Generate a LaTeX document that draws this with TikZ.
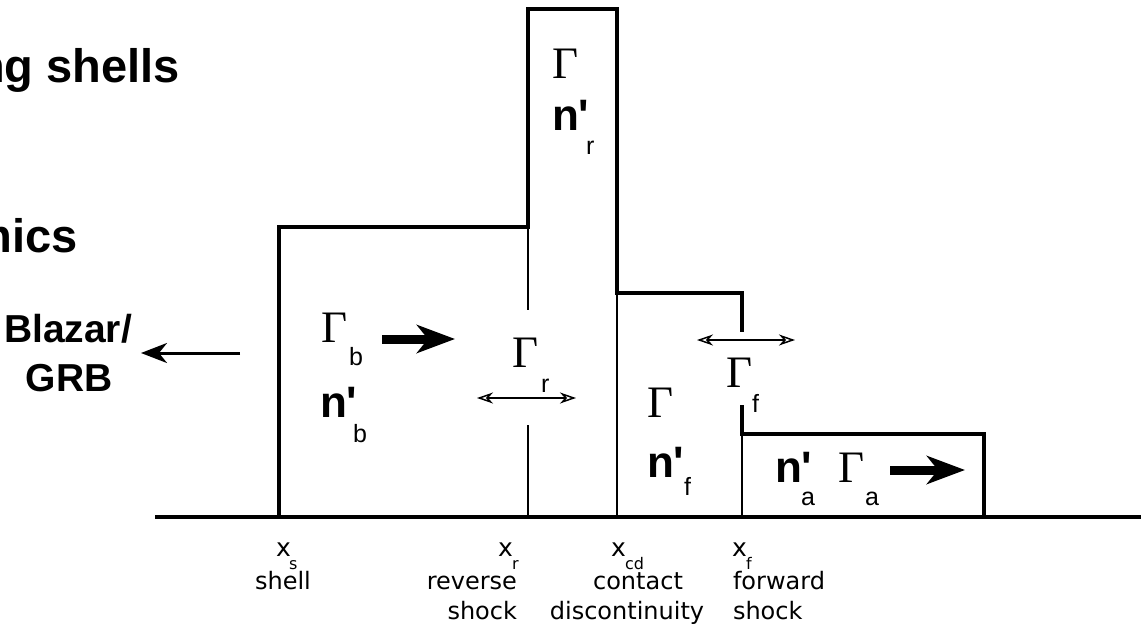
\documentclass[tikz,border=0pt]{standalone}
\usepackage{fontspec}
\setmainfont{Liberation Sans}
\newfontfamily\grk{Liberation Serif}
\newfontfamily\axisfont{DejaVu Sans}
\usetikzlibrary{arrows.meta}

\tikzset{
  outline/.style={line width=4pt, line join=miter, line cap=rect},
  thinline/.style={line width=2pt},
  lbl/.style={inner sep=0pt, outer sep=0pt, anchor=base west},
  gam/.style={lbl, font=\grk\fontsize{45}{45}\selectfont},
  dens/.style={lbl, font=\bfseries\fontsize{44}{44}\selectfont},
  subtext/.style={lbl, font=\fontsize{25}{25}\selectfont},
  postext/.style={lbl, font=\axisfont\fontsize{25}{25}\selectfont},
  possub/.style={lbl, font=\axisfont\fontsize{16}{16}\selectfont},
  captext/.style={inner sep=0pt, outer sep=0pt, font=\axisfont\fontsize{24}{24}\selectfont},
  titletext/.style={inner sep=0pt, outer sep=0pt, anchor=base east, font=\bfseries\fontsize{47}{47}\selectfont},
  sidetext/.style={inner sep=0pt, outer sep=0pt, anchor=base, font=\bfseries\fontsize{39}{39}\selectfont},
  fatarrow/.style={line width=9pt, -{Stealth[length=38pt,width=28pt,inset=11pt]}},
  motion/.style={line width=3pt, -{Stealth[length=26pt,width=20pt,inset=8pt]}},
  spread/.style={line width=1.5pt, {Stealth[open,length=16pt,width=11pt,inset=5pt]}-{Stealth[open,length=16pt,width=11pt,inset=5pt]}}
}

\begin{document}
\begin{tikzpicture}[x=1pt,y=-1pt]
\useasboundingbox (0,0) rectangle (1141,642);
\clip (0,0) rectangle (1141,642);

% headings
\node[titletext] (t1) at (180,82) {ng shells};
\node[titletext] (t2) at (78,252) {mics};

% ground line
\coordinate (g0) at (157,517);
\coordinate (g1) at (1141,517);
\draw[outline] (g0) -- (g1);

% shell, reverse-shocked region and tall compressed region
\coordinate (s0) at (279,517);
\coordinate (s1) at (279,227);
\coordinate (s2) at (528,227);
\coordinate (s3) at (528,9);
\coordinate (s4) at (617,9);
\coordinate (s5) at (617,293);
\coordinate (s6) at (742,293);
\coordinate (s7) at (742,330);
\draw[outline] (s0) -- (s1) -- (s2) -- (s3) -- (s4) -- (s5) -- (s6) -- (s7);

% contact discontinuity (thin part)
\coordinate (cd1) at (617,517);
\draw[thinline] (s5) -- (cd1);

% reverse shock
\coordinate (r0) at (528,229);
\coordinate (r1) at (528,310);
\coordinate (r2) at (528,425);
\coordinate (r3) at (528,517);
\draw[thinline] (r0) -- (r1);
\draw[thinline] (r2) -- (r3);

% forward shock and ambient medium
\coordinate (f0) at (742,407);
\coordinate (f1) at (742,434);
\coordinate (f2) at (984,434);
\coordinate (f3) at (984,517);
\coordinate (f4) at (742,517);
\draw[outline] (f0) -- (f1) -- (f2) -- (f3);
\draw[thinline] (f1) -- (f4);

% observer direction
\node[sidetext] (bl1) at (68,342) {Blazar/};
\node[sidetext] (bl2) at (69,391) {GRB};
\coordinate (oa) at (240,353);
\coordinate (ob) at (141,353);
\draw[motion] (oa) -- (ob);

% shell quantities
\node[gam] (gb) at (321,342) {Γ};
\node[subtext] (gbs) at (349,365) {b};
\coordinate (ba) at (382,339);
\coordinate (bb) at (455,339);
\draw[fatarrow] (ba) -- (bb);
\node[dens] (nb) at (320,417) {n\textquotesingle};
\node[subtext] (nbs) at (353,442) {b};

% reverse shock
\node[gam] (gr) at (512,367) {Γ};
\node[subtext] (grs) at (541,392) {r};
\coordinate (wr0) at (477,398);
\coordinate (wr1) at (576,398);
\draw[spread] (wr0) -- (wr1);

% compressed shell
\node[gam] (gc) at (552,79) {Γ};
\node[dens] (nr) at (552,130) {n\textquotesingle};
\node[subtext] (nrs) at (586,154) {r};

% compressed ambient medium
\node[gam] (gf2) at (647,417) {Γ};
\node[dens] (nf) at (647,477) {n\textquotesingle};
\node[subtext] (nfs) at (684,495) {f};

% forward shock
\node[gam] (gf) at (726,387) {Γ};
\node[subtext] (gfs) at (752,412) {f};
\coordinate (wf0) at (697,340);
\coordinate (wf1) at (795,340);
\draw[spread] (wf0) -- (wf1);

% ambient medium
\node[dens] (na) at (775,482) {n\textquotesingle};
\node[subtext] (nas) at (801,505) {a};
\node[gam] (ga) at (838,482) {Γ};
\node[subtext] (gas) at (865,505) {a};
\coordinate (aa) at (890,470);
\coordinate (ab) at (965,470);
\draw[fatarrow] (aa) -- (ab);

% positions along the axis
\node[postext] (xs) at (276,556) {x};
\node[possub] (xss) at (289,569) {s};
\node[captext, anchor=base] (c1) at (283,589) {shell};

\node[postext] (xr) at (498,556) {x};
\node[possub] (xrs) at (512,569) {r};
\node[captext, anchor=base east] (c2) at (517,589) {reverse};
\node[captext, anchor=base east] (c3) at (517,619) {shock};

\node[postext] (xc) at (611,556) {x};
\node[possub] (xcs) at (625,569) {cd};
\node[captext, anchor=base] (c4) at (638,589) {contact};
\node[captext, anchor=base] (c5) at (627,619) {discontinuity};

\node[postext] (xf) at (732,556) {x};
\node[possub] (xfs) at (746,569) {f};
\node[captext, anchor=base west] (c6) at (733,589) {forward};
\node[captext, anchor=base west] (c7) at (733,619) {shock};
\end{tikzpicture}
\end{document}
